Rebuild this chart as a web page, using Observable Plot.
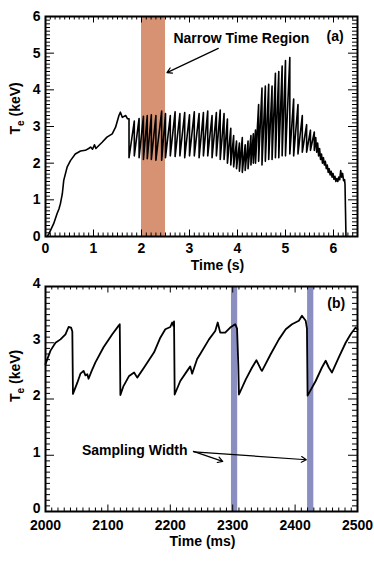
<!DOCTYPE html>
<html><head><meta charset="utf-8">
<script src="https://cdn.jsdelivr.net/npm/d3@7"></script>
<script src="https://cdn.jsdelivr.net/npm/@observablehq/plot@0.6"></script>
<style>
body{margin:0;background:#fff;}
#chart{width:374px;}
#chart svg{display:block;}
</style></head><body><div id="chart"></div>
<script>
// ---------- Panel (a) data: Te (keV) vs time (s) ----------
const rampTime = [0.03,0.07,0.17,0.24,0.28,0.31,0.35,0.38,0.45,0.52,0.62,0.73,0.83,0.90,0.94,0.98,1.02,1.05,1.08,1.18,1.28,1.39,1.46,1.53,1.56,1.60,1.67,1.71];
const rampTe   = [0.00,0.07,0.35,0.62,0.75,0.89,1.16,1.53,1.89,2.07,2.25,2.33,2.35,2.40,2.44,2.38,2.50,2.40,2.44,2.57,2.71,2.80,2.98,3.30,3.39,3.25,3.30,3.21];
// sawtooth crashes: time, value just before crash, value just after crash
const crashTime   = [1.74,1.85,1.95,2.04,2.12,2.205,2.30,2.42,2.50,2.60,2.70,2.80,2.90,3.00,3.10,3.20,3.29,3.38,3.47,3.56,3.64,3.72,
                     3.79,3.86,3.92,3.98,4.04,4.10,4.16,4.22,4.28,4.33,
                     4.375,4.44,4.51,4.58,4.65,4.72,4.79,4.86,4.93,5.00,5.09,5.17,5.26,5.35,5.44,5.52,5.60];
const crashPeak   = [3.21,3.15,3.22,3.28,3.30,3.32,3.30,3.42,3.35,3.30,3.40,3.35,3.38,3.32,3.40,3.35,3.38,3.42,3.30,3.38,3.45,3.35,
                     3.20,2.95,2.75,2.60,2.55,2.70,2.50,2.60,2.75,2.80,
                     2.90,3.60,4.05,4.10,4.15,4.10,4.45,4.50,4.65,4.80,4.88,3.75,3.60,3.30,3.05,2.90,2.85];
const crashTrough = [2.15,2.20,2.15,2.10,2.12,2.10,2.08,2.08,2.15,2.20,2.18,2.20,2.15,2.20,2.20,2.15,2.20,2.20,2.15,2.20,2.10,2.10,
                     2.00,1.95,1.90,1.85,1.78,1.75,1.80,1.85,1.95,2.00,
                     2.00,2.05,1.95,2.05,2.10,2.10,2.15,2.15,2.20,2.20,2.25,2.20,2.25,2.30,2.30,2.35,2.35];
const decayTime = [5.63,5.65,5.67,5.69,5.71,5.73,5.75,5.77,5.79,5.81,5.83,5.85,5.87,5.89,5.91,5.93,5.95,5.97,5.99,6.01,6.03,6.05,6.07,6.09,6.11,6.13,6.15,6.17,6.19,6.21,6.23,6.24,6.25,6.26];
const decayTe   = [2.70,2.30,2.55,2.20,2.40,2.10,2.25,2.00,2.15,1.95,2.05,1.85,1.95,1.75,1.85,1.68,1.78,1.62,1.72,1.56,1.64,1.50,1.58,1.50,1.62,1.55,1.80,1.62,1.72,1.52,1.55,1.42,0.70,0.00];

const topXTicks = [0,1,2,3,4,5,6];
const topXLabels = ["0","1","2","3","4","5","6"];
const topYTicks = [0,1,2,3,4,5,6];
const topYLabels = ["0","1","2","3","4","5","6"];
const narrowRegion = [[2.0, 2.5]];
const narrowLabel = {x: 4.08, y: 5.39, text: "Narrow Time Region"};
const narrowArrow = {x1: 3.60, y1: 5.13, x2: 2.53, y2: 4.47};
const panelALabel = {x: 6.035, y: 5.46, text: "(a)"};

// ---------- Panel (b) data: Te (keV) vs time (ms) ----------
const zoomTime = [2000,2008,2016,2024,2032,2037,2041,2043,2044,2051,2056,2061,2064,2067,2069,2074,2080,2093,2107,2117,2119,2120,
                  2125,2134,2142,2147,2158,2174,2184,2192,2200,2203,2205,2206,2207,2216,2227,2232,2235,2243,2248,2262,2272,2276,
                  2280,2288,2296,2304,2307,2309,2310,2321,2331,2338,2345,2347,2361,2374,2385,2395,2406,2411,2417,2419,2420,
                  2433,2443,2449,2454,2459,2470,2481,2489,2497,2500];
const zoomTe   = [2.62,2.86,3.00,3.06,3.15,3.28,3.27,3.20,2.09,2.29,2.45,2.50,2.42,2.44,2.36,2.50,2.65,2.92,3.15,3.30,3.33,2.07,
                  2.23,2.41,2.47,2.38,2.56,2.83,3.09,3.24,3.28,3.36,3.30,3.38,2.08,2.32,2.50,2.58,2.45,2.71,2.80,3.06,3.21,3.36,
                  3.18,3.18,3.27,3.33,3.25,2.60,2.08,2.35,2.56,2.69,2.53,2.50,2.80,3.06,3.24,3.33,3.39,3.48,3.39,3.25,2.06,
                  2.32,2.56,2.68,2.56,2.47,2.74,3.00,3.15,3.27,3.24];
const botXTicks = [2000,2100,2200,2300,2400,2500];
const botXLabels = ["2000","2100","2200","2300","2400","2500"];
const botYTicks = [0,1,2,3,4];
const botYLabels = ["0","1","2","3","4"];
const samplingBands = [[2298, 2308], [2420, 2430]];
const samplingLabel = {x: 2143, y: 1.08, text: "Sampling Width"};
const samplingArrows = [{x1: 2237, y1: 1.07, x2: 2284, y2: 0.89}, {x1: 2238, y1: 1.06, x2: 2418, y2: 0.92}];
const panelBLabel = {x: 2466, y: 3.69, text: "(b)"};

// ---------- build series ----------
const topSeries = [];
rampTime.forEach((t, i) => topSeries.push({t, v: rampTe[i]}));
crashTime.forEach((t, i) => { topSeries.push({t, v: crashPeak[i]}); topSeries.push({t, v: crashTrough[i]}); });
decayTime.forEach((t, i) => topSeries.push({t, v: decayTe[i]}));
const botSeries = zoomTime.map((t, i) => ({t, v: zoomTe[i]}));

const W = 374, ML = 45, MR = 17;
const FONT = "'Liberation Sans', Arial, Helvetica, sans-serif";

function subscriptTitle(svg) {
  d3.select(svg).selectAll("text").filter(function () { return this.textContent === "Te (keV)"; })
    .each(function () {
      const t = d3.select(this);
      t.text(null);
      t.append("tspan").text("T");
      t.append("tspan").attr("dy", "4").attr("font-size", "10").text("e");
      t.append("tspan").attr("dy", "-4").text(" (keV)");
    });
}

function panel(cfg) {
  const frameW = W - ML - MR;
  const frameH = cfg.height - cfg.marginTop - cfg.marginBottom;
  const isMajorX = v => cfg.xTicks.some(m => Math.abs(m - v) < 1e-6);
  const isMajorY = v => cfg.yTicks.some(m => Math.abs(m - v) < 1e-6);
  const xMinor = cfg.xMinor.filter(v => !isMajorX(v));
  const yMinor = cfg.yMinor.filter(v => !isMajorY(v));
  const tick = {stroke: "black", strokeWidth: 1};
  const txt = {fontSize: 14, fontWeight: "bold", fill: "black"};
  const svg = Plot.plot({
    width: W, height: cfg.height,
    marginLeft: ML, marginRight: MR, marginTop: cfg.marginTop, marginBottom: cfg.marginBottom,
    style: {fontFamily: FONT, background: "white", color: "black"},
    x: {domain: cfg.xDomain},
    y: {domain: cfg.yDomain},
    marks: [
      Plot.rect(cfg.bands, {x1: d => d[0], x2: d => d[1], fill: cfg.bandColor}),
      Plot.line(cfg.series, {x: "t", y: "v", stroke: "black", strokeWidth: cfg.lineWidth}),
      Plot.ruleX(xMinor, {...tick, insetTop: frameH - 3.5}),
      Plot.ruleX(xMinor, {...tick, insetBottom: frameH - 3.5}),
      Plot.ruleX(cfg.xTicks, {...tick, insetTop: frameH - 6.5}),
      Plot.ruleX(cfg.xTicks, {...tick, insetBottom: frameH - 6.5}),
      Plot.ruleY(yMinor, {...tick, insetRight: frameW - 5}),
      Plot.ruleY(yMinor, {...tick, insetLeft: frameW - 5}),
      Plot.ruleY(cfg.yTicks, {...tick, insetRight: frameW - 9}),
      Plot.ruleY(cfg.yTicks, {...tick, insetLeft: frameW - 9}),
      Plot.frame({stroke: "black", strokeWidth: 2}),
      Plot.axisX({ticks: cfg.xTicks, tickSize: 0, tickPadding: cfg.xPad, label: null,
        tickFormat: d => cfg.xLabels[cfg.xTicks.indexOf(d)], fontSize: cfg.xFont, fontWeight: "bold"}),
      Plot.axisY({ticks: cfg.yTicks, tickSize: 0, tickPadding: 5, label: null, dy: cfg.yLabelDy,
        tickFormat: d => cfg.yLabels[cfg.yTicks.indexOf(d)], fontSize: 14, fontWeight: "bold"}),
      Plot.text([cfg.xTitle], {frameAnchor: "bottom", text: d => d, dx: cfg.xTitleDx, dy: cfg.xTitleDy, ...txt}),
      Plot.text(["Te (keV)"], {frameAnchor: "left", text: d => d, rotate: -90, dx: -30, dy: cfg.yTitleDy, ...txt}),
      Plot.arrow(cfg.arrows, {x1: "x1", y1: "y1", x2: "x2", y2: "y2", stroke: "black", strokeWidth: 1.2, headLength: 7}),
      Plot.text(cfg.labels, {x: "x", y: "y", text: "text", ...txt})
    ]
  });
  subscriptTitle(svg);
  return svg;
}

const chart = document.getElementById("chart");
chart.append(panel({
  height: 275, marginTop: 16, marginBottom: 39,
  xDomain: [0, 6.5], yDomain: [0, 6],
  xTicks: topXTicks, xLabels: topXLabels, yTicks: topYTicks, yLabels: topYLabels,
  xMinor: d3.range(0, 66).map(i => i / 10), yMinor: d3.range(0, 61).map(i => i / 10),
  series: topSeries, lineWidth: 1.6,
  bands: narrowRegion, bandColor: "rgb(214,146,114)",
  xPad: 7, xFont: 14, xTitle: "Time (s)", xTitleDx: 16, xTitleDy: 33, yTitleDy: 8, yLabelDy: 0,
  arrows: [narrowArrow], labels: [narrowLabel, panelALabel]
}));
chart.append(panel({
  height: 289, marginTop: 11, marginBottom: 53,
  xDomain: [2000, 2500], yDomain: [0, 4],
  xTicks: botXTicks, xLabels: botXLabels, yTicks: botYTicks, yLabels: botYLabels,
  xMinor: d3.range(0, 51).map(i => 2000 + i * 10), yMinor: d3.range(0, 41).map(i => i / 10),
  series: botSeries, lineWidth: 1.8,
  bands: samplingBands, bandColor: "rgb(139,142,192)",
  xPad: 9, xFont: 14, xTitle: "Time (ms)", xTitleDx: 1, xTitleDy: 34, yTitleDy: 3, yLabelDy: -3,
  arrows: samplingArrows, labels: [samplingLabel, panelBLabel]
}));
</script></body></html>
